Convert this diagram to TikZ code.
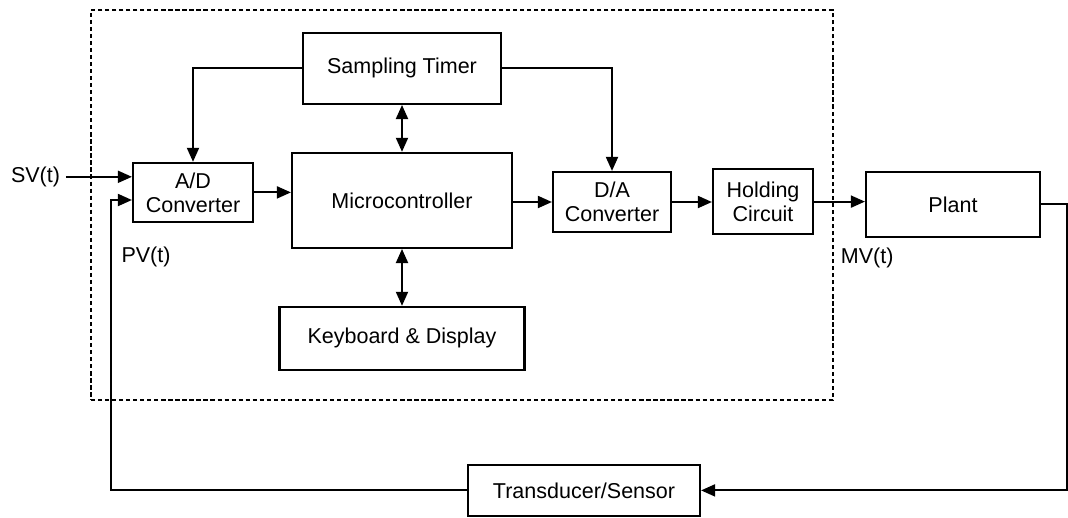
\documentclass[tikz,border=0pt]{standalone}
\usepackage{fontspec}
\setmainfont{Liberation Sans}
\usepackage{tikz}
\usetikzlibrary{arrows.meta,positioning,fit}

\begin{document}
\begin{tikzpicture}[
  font=\fontsize{15.3}{17}\selectfont,
  box/.style={draw, line width=1.5pt, align=center, inner sep=2pt},
  arr/.style={-{Triangle[length=10pt,width=8.5pt]}, line width=1.5pt},
  darr/.style={{Triangle[length=10pt,width=8.5pt]}-{Triangle[length=10pt,width=8.5pt]}, line width=1.5pt},
  lab/.style={inner sep=4pt},
  frame/.style={draw, line width=1pt, dash pattern=on 3pt off 2pt, inner sep=0pt}
]
\useasboundingbox (0,0) rectangle (26.7,-12.925);
% controller frame
\node[frame, fit={(2.275,-0.25) (20.825,-10.0)}] (mcu) {};
% blocks inside the frame
\node[box, minimum width=49.5mm, minimum height=17.75mm] (timer) at (10.05,-1.71) {Sampling Timer};
\node[box, minimum width=55mm, minimum height=23.75mm] (micro) at (10.05,-5.01) {Microcontroller};
\node[box, minimum width=61.25mm, minimum height=15.75mm] (keys) at (10.05,-8.46) {Keyboard \& Display};
\node[box, minimum width=30mm, minimum height=14.75mm] (adc) at (4.825,-4.81) {A/D\\Converter};
\node[box, minimum width=29.5mm, minimum height=15mm] (dac) at (15.3,-5.05) {D/A\\Converter};
\node[box, minimum width=25mm, minimum height=16.25mm] (hold) at (19.075,-5.04) {Holding\\Circuit};
% plant and sensor
\node[box, minimum width=43.5mm, minimum height=16.25mm] (plant) at (23.825,-5.11) {Plant};
\node[box, minimum width=58mm, minimum height=12.75mm] (sensor) at (14.6,-12.26) {Transducer/Sensor};
% A/D inputs
\coordinate (adin1) at ([yshift=3.9mm]adc.west);
\coordinate (adin2) at ([yshift=-1.9mm]adc.west);
\node[lab, left=16.5mm of adin1] (sv) {SV(t)};
\draw[arr] (sv) -- (adin1);
% forward path
\draw[arr] (adc) -- (micro.west |- adc);
\draw[arr] (micro.east |- dac) -- (dac);
\draw[arr] (dac) -- (hold.west |- dac);
\draw[arr] (hold.east) -- (plant.west |- hold);
% timer and user links
\draw[arr] (timer.west) -| (adc.north);
\draw[arr] (timer.east) -| (dac.north);
\draw[darr] (timer) -- (micro);
\draw[darr] (micro) -- (keys);
% feedback loop
\coordinate (fbr) at ([xshift=6.5mm]plant.east);
\coordinate (fbl) at ([xshift=-5.25mm]adin2);
\draw[arr] (plant.east) -- (fbr) |- (sensor.east);
\draw[arr] (sensor.west) -| (fbl) -- (adin2);
% signal names
\node[lab] (pv) at (3.65,-6.43) {PV(t)};
\node[lab] (mv) at (21.68,-6.45) {MV(t)};
\end{tikzpicture}
\end{document}
